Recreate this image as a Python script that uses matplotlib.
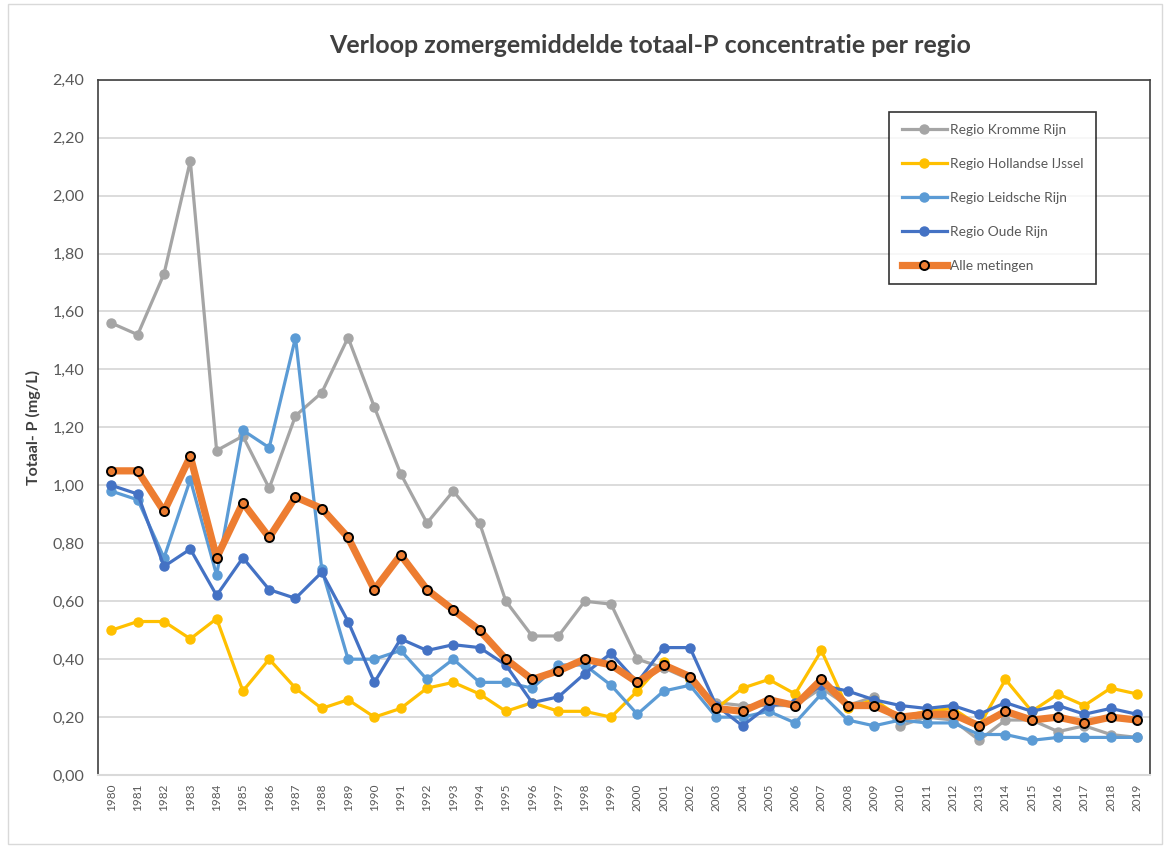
import matplotlib
matplotlib.use("Agg")
import matplotlib.pyplot as plt
from matplotlib.ticker import FuncFormatter
from matplotlib.patches import Rectangle

plt.rcParams['font.family'] = ['Lato', 'DejaVu Sans']

# jaren
years = list(range(1980, 2020))

kromme_rijn = [1.56, 1.52, 1.73, 2.12, 1.12, 1.17, 0.99, 1.24, 1.32, 1.51,
               1.27, 1.04, 0.87, 0.98, 0.87, 0.60, 0.48, 0.48, 0.60, 0.59,
               0.40, 0.37, 0.33, 0.25, 0.24, 0.24, 0.24, 0.30, 0.24, 0.27,
               0.17, 0.20, 0.19, 0.12, 0.19, 0.19, 0.15, 0.17, 0.14, 0.13]
hollandse_ijssel = [0.50, 0.53, 0.53, 0.47, 0.54, 0.29, 0.40, 0.30, 0.23, 0.26,
                    0.20, 0.23, 0.30, 0.32, 0.28, 0.22, 0.25, 0.22, 0.22, 0.20,
                    0.29, 0.39, 0.33, 0.23, 0.30, 0.33, 0.28, 0.43, 0.23, 0.26,
                    0.20, 0.22, 0.23, 0.17, 0.33, 0.22, 0.28, 0.24, 0.30, 0.28]
leidsche_rijn = [0.98, 0.95, 0.75, 1.02, 0.69, 1.19, 1.13, 1.51, 0.71, 0.40,
                 0.40, 0.43, 0.33, 0.40, 0.32, 0.32, 0.30, 0.38, 0.38, 0.31,
                 0.21, 0.29, 0.31, 0.20, 0.20, 0.22, 0.18, 0.28, 0.19, 0.17,
                 0.19, 0.18, 0.18, 0.14, 0.14, 0.12, 0.13, 0.13, 0.13, 0.13]
oude_rijn = [1.00, 0.97, 0.72, 0.78, 0.62, 0.75, 0.64, 0.61, 0.70, 0.53,
             0.32, 0.47, 0.43, 0.45, 0.44, 0.38, 0.25, 0.27, 0.35, 0.42,
             0.32, 0.44, 0.44, 0.24, 0.17, 0.24, 0.25, 0.31, 0.29, 0.26,
             0.24, 0.23, 0.24, 0.21, 0.25, 0.22, 0.24, 0.21, 0.23, 0.21]
alle_metingen = [1.05, 1.05, 0.91, 1.10, 0.75, 0.94, 0.82, 0.96, 0.92, 0.82,
                 0.64, 0.76, 0.64, 0.57, 0.50, 0.40, 0.33, 0.36, 0.40, 0.38,
                 0.32, 0.38, 0.34, 0.23, 0.22, 0.26, 0.24, 0.33, 0.24, 0.24,
                 0.20, 0.21, 0.21, 0.17, 0.22, 0.19, 0.20, 0.18, 0.20, 0.19]

x = list(range(len(years)))

fig = plt.figure(figsize=(11.7, 8.48), dpi=100)
ax = fig.add_axes([0.084, 0.086, 0.899, 0.820])

# regio's
ax.plot(x, kromme_rijn, color='#A5A5A5', lw=2.3, marker='o', ms=6.5, label='Regio Kromme Rijn')
ax.plot(x, hollandse_ijssel, color='#FFC000', lw=2.3, marker='o', ms=6.5, label='Regio Hollandse IJssel')
ax.plot(x, leidsche_rijn, color='#5B9BD5', lw=2.3, marker='o', ms=6.5, label='Regio Leidsche Rijn')
ax.plot(x, oude_rijn, color='#4472C4', lw=2.3, marker='o', ms=6.5, label='Regio Oude Rijn')
ax.plot(x, alle_metingen, color='#ED7D31', lw=5.2, marker='o', ms=6.5,
        mfc='#ED7D31', mec='black', mew=1.4, label='Alle metingen')

ax.set_xlim(-0.5, len(years) - 0.5)
ax.set_ylim(0, 2.4)
ax.set_yticks([i * 0.2 for i in range(13)])
ax.yaxis.set_major_formatter(FuncFormatter(lambda v, p: f'{v:.2f}'.replace('.', ',')))
ax.set_xticks(x)
ax.set_xticklabels([str(y) for y in years], rotation=90, fontsize=8.5, color='#595959')
ax.tick_params(axis='y', labelsize=11.5, colors='#595959', length=0, pad=10)
ax.tick_params(axis='x', length=0, pad=6)

ax.grid(axis='y', color='#D9D9D9', lw=1.3)
ax.set_axisbelow(True)
for s in ['left', 'top', 'right']:
    ax.spines[s].set_color('#404040')
    ax.spines[s].set_linewidth(1.2)
ax.spines['bottom'].set_color('#D9D9D9')
ax.spines['bottom'].set_linewidth(1.5)

ax.set_ylabel('Totaal- P (mg/L)', fontsize=11.5, fontweight='bold', color='#404040', labelpad=8)
fig.suptitle('Verloop zomergemiddelde totaal-P concentratie per regio', x=0.556, y=0.960,
             fontsize=18, fontweight='bold', color='#404040')

leg = ax.legend(loc='upper left', bbox_to_anchor=(0.752, 0.954), fontsize=9.9,
                labelcolor='#595959', frameon=True, fancybox=False, edgecolor='black',
                borderpad=0.9, labelspacing=1.6, handlelength=3.3, handletextpad=0.2,
                borderaxespad=0)
leg.get_frame().set_linewidth(1.2)

# rand om de hele grafiek
fig.patches.append(Rectangle((0.007, 0.005), 0.986, 0.99, transform=fig.transFigure,
                             fill=False, edgecolor='#D9D9D9', lw=1))

fig.savefig('out.png', dpi=100)
